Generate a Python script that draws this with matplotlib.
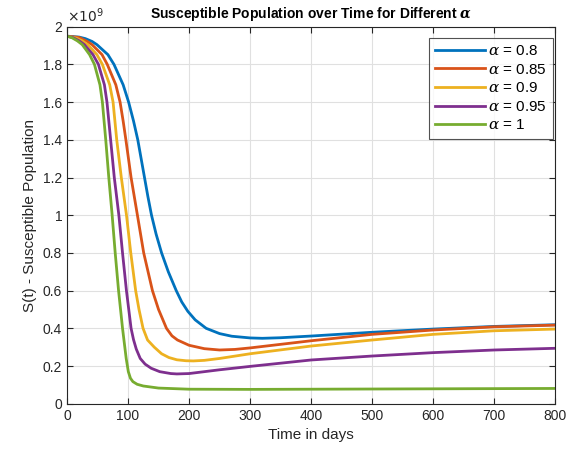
import matplotlib
matplotlib.use("Agg")
import matplotlib.pyplot as plt
import numpy as np

plt.rcParams['font.family'] = ['Liberation Sans', 'DejaVu Sans']
plt.rcParams['mathtext.fontset'] = 'dejavuserif'

labels = [r"$\alpha$ = 0.8", r"$\alpha$ = 0.85", r"$\alpha$ = 0.9", r"$\alpha$ = 0.95", r"$\alpha$ = 1"]
colors = ["#0072BD", "#D95319", "#EDB120", "#7E2F8E", "#77AC30"]

# values in units of 1e9
t_a080 = [0, 20, 30, 41, 49, 67, 77, 92, 101, 109, 116, 121.5, 127, 132.5, 138.5, 146, 155, 166, 179, 188, 198, 210, 228, 250, 270, 300, 320, 350, 400, 500, 600, 700, 800]
s_a080 = [1.95, 1.945, 1.937, 1.922, 1.905, 1.852, 1.80, 1.692, 1.60, 1.50, 1.40, 1.30, 1.20, 1.10, 1.00, 0.90, 0.80, 0.70, 0.60, 0.54, 0.49, 0.445, 0.40, 0.372, 0.358, 0.349, 0.347, 0.350, 0.359, 0.379, 0.396, 0.410, 0.419]

t_a085 = [0, 20, 33, 41, 57.4, 66, 80, 87, 92, 96.5, 105, 115.4, 125.7, 140, 150, 163, 172, 181, 200, 225, 250, 275, 300, 400, 500, 600, 700, 800]
s_a085 = [1.95, 1.943, 1.922, 1.905, 1.852, 1.80, 1.692, 1.60, 1.50, 1.40, 1.20, 1.00, 0.80, 0.60, 0.50, 0.40, 0.36, 0.338, 0.31, 0.292, 0.285, 0.288, 0.296, 0.334, 0.368, 0.391, 0.408, 0.417]

t_a090 = [0, 15, 25, 34, 49, 58, 70, 75.5, 81.5, 89, 97.5, 104.5, 112.5, 118, 124.6, 132, 143, 155, 167, 180, 195, 207, 225, 250, 300, 400, 500, 600, 700, 800]
s_a090 = [1.95, 1.94, 1.925, 1.905, 1.852, 1.80, 1.692, 1.60, 1.40, 1.20, 1.00, 0.80, 0.60, 0.50, 0.40, 0.338, 0.30, 0.265, 0.245, 0.233, 0.228, 0.227, 0.23, 0.24, 0.265, 0.306, 0.338, 0.368, 0.387, 0.396]

t_a095 = [0, 10, 20, 28.5, 42.6, 51.5, 61.3, 65.5, 71.5, 77.5, 85, 91, 97.4, 105, 109, 113.5, 120, 128, 138, 152, 170, 180, 200, 250, 300, 400, 500, 600, 700, 800]
s_a095 = [1.95, 1.942, 1.925, 1.905, 1.852, 1.80, 1.692, 1.60, 1.40, 1.20, 1.00, 0.80, 0.60, 0.40, 0.34, 0.29, 0.24, 0.21, 0.188, 0.17, 0.16, 0.158, 0.16, 0.18, 0.198, 0.232, 0.253, 0.271, 0.285, 0.294]

t_a100 = [0, 8, 17, 25, 37, 45, 54, 58, 63.5, 68.5, 74, 79, 84.5, 91, 94, 97, 100.5, 104, 108, 115, 125, 150, 200, 300, 400, 500, 600, 700, 800]
s_a100 = [1.95, 1.942, 1.925, 1.905, 1.852, 1.80, 1.692, 1.60, 1.40, 1.20, 1.00, 0.80, 0.60, 0.40, 0.32, 0.24, 0.17, 0.135, 0.117, 0.103, 0.094, 0.083, 0.077, 0.076, 0.077, 0.078, 0.079, 0.080, 0.081]

series = [(t_a080, s_a080), (t_a085, s_a085), (t_a090, s_a090), (t_a095, s_a095), (t_a100, s_a100)]

fig = plt.figure(figsize=(5.76, 4.53), dpi=100)
ax = fig.add_axes([0.1163, 0.1088, 0.964 - 0.1163, 0.941 - 0.1088])

for (t, s), c, lab in zip(series, colors, labels):
    ax.plot(t, s, color=c, lw=2, label=lab, solid_joinstyle="round")

ax.set_xlim(0, 800)
ax.set_ylim(0, 2)
ax.set_xticks(np.arange(0, 801, 100))
ax.set_yticks(np.arange(0, 2.01, 0.2))
ax.set_yticklabels(["0", "0.2", "0.4", "0.6", "0.8", "1", "1.2", "1.4", "1.6", "1.8", "2"])
ax.grid(True, color="#e0e0e0", lw=0.8)
ax.set_axisbelow(True)
ax.tick_params(direction="in", top=True, right=True, labelsize=10, colors="#262626", length=4)
for sp in ax.spines.values():
    sp.set_color("#262626")
    sp.set_linewidth(0.8)

ax.set_xlabel("Time in days", fontsize=11, color="#262626")
ax.set_ylabel("S(t) - Susceptible Population", fontsize=11, color="#262626")
ax.set_title(r"Susceptible Population over Time for Different $\boldsymbol{\alpha}$", fontsize=10, fontweight="bold", pad=6)
ax.text(0.0, 1.005, r"$\times10^{9}$", transform=ax.transAxes, ha="left", va="bottom", fontsize=10, color="#262626",
        math_fontfamily='dejavusans')

leg = ax.legend(loc="upper right", bbox_to_anchor=(0.9953, 0.970), fontsize=11, frameon=True, fancybox=False,
                edgecolor="#262626", handlelength=3.3, borderaxespad=0.0, labelspacing=0.3, borderpad=0.4,
                handletextpad=0.2)
leg.get_frame().set_linewidth(0.8)

fig.savefig("out.png", dpi=100)
